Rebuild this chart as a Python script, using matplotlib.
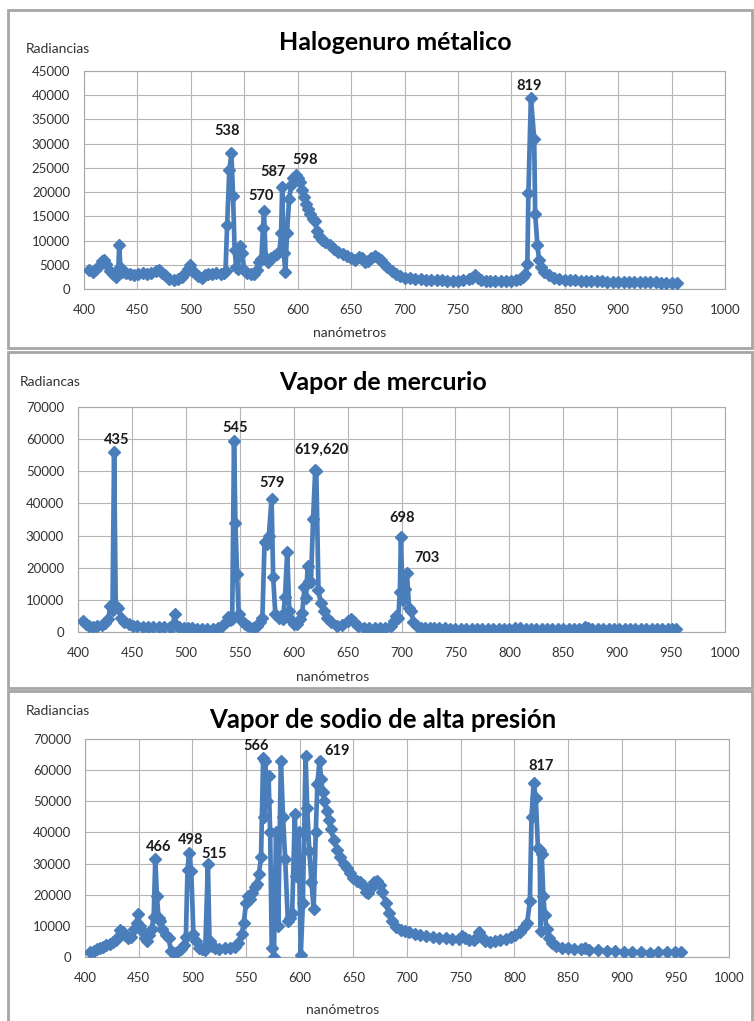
import matplotlib
matplotlib.use("Agg")
import matplotlib.pyplot as plt
from matplotlib.patches import Rectangle

plt.rcParams["font.family"] = ["Lato", "DejaVu Sans"]

W, H = 754, 1021
LINE = "#4a7ebb"

# --- Halogenuro metalico ---
hal_nm = [405, 408, 411, 414, 417, 419, 421, 424, 427, 430, 432, 433, 434, 436, 439,
          443, 447, 451, 455, 459, 463, 467, 470, 473, 476, 480, 484, 488, 492, 495,
          497, 499, 501, 504, 507, 510, 513, 516, 520, 524, 528, 531, 532.5, 534, 536,
          538, 539.5, 541, 542.5, 544, 546, 548, 550, 553, 556, 559, 562, 564, 566,
          567.5, 568.5, 570, 572, 575, 578, 581, 583, 584.5, 585.5, 587, 588.5, 590,
          592, 594, 596, 598, 600, 602, 604, 606, 608, 610, 612, 614, 616, 618, 620,
          623, 626, 630, 634, 638, 642, 646, 650, 654, 657, 660, 663, 666, 669, 672,
          675, 678, 681, 684, 688, 692, 696, 700, 705, 710, 715, 720, 725, 730, 735,
          740, 745, 750, 755, 760, 763, 766, 769, 772, 776, 780, 785, 790, 795, 800,
          804, 808, 811, 813, 815, 816, 818.3, 821.4, 822.3, 824.4, 826, 828, 831,
          835, 840, 845, 850, 855, 860, 865, 870, 875, 880, 885, 890, 895, 900, 905,
          910, 915, 920, 925, 930, 935, 940, 945, 950, 955]
hal_rad = [4000, 3600, 4200, 4800, 5800, 6000, 5200, 3800, 3000, 2500, 3500, 9000, 4500, 3500, 3300,
           3000, 2900, 3100, 3200, 3000, 3400, 3800, 3900, 3400, 2800, 2000, 1800, 2000, 2400, 3200,
           4200, 5000, 3800, 3200, 2600, 2200, 2800, 3000, 3100, 3300, 3000, 3400, 3800, 13300, 24500,
           28000, 19300, 8000, 4500, 4200, 8800, 7500, 4000, 3200, 3000, 3100, 4000, 5500, 6200,
           12500, 16000, 6500, 5500, 6500, 6800, 7200, 7800, 11500, 21000, 7500, 3500, 11500,
           18500, 21500, 23000, 23500, 23000, 22000, 20500, 19000, 17500, 16500, 15500, 14500, 14000, 12000, 11000,
           10200, 9600, 9000, 8300, 7700, 7200, 6800, 6400, 6000, 6600, 6500, 5500, 5800, 6300, 6800,
           6500, 6000, 5200, 4500, 3800, 3000, 2600, 2300, 2200, 2100, 2000, 1900, 1900, 1800, 1800,
           1700, 1700, 1700, 1800, 2000, 2300, 2900, 2300, 1800, 1700, 1700, 1600, 1600, 1600, 1700,
           1800, 2000, 2400, 3000, 5200, 19800, 39500, 31000, 15500, 9000, 6000, 4500, 3500,
           2800, 2300, 2100, 1900, 1800, 1800, 1700, 1700, 1600, 1600, 1600, 1500, 1500, 1500, 1500,
           1500, 1400, 1400, 1400, 1400, 1400, 1300, 1300, 1300, 1300]

# --- Vapor de mercurio ---
hg_nm = [405, 407, 410, 414, 418, 422, 425, 428, 430, 432, 433.5, 435, 437, 440, 443,
         447, 451, 455, 460, 465, 470, 475, 480, 485, 488, 489.5, 491, 494, 498, 502,
         506, 510, 515, 520, 525, 530, 534, 537, 539, 541, 543, 544.7, 546, 547.5, 549,
         552, 555, 558, 562, 566, 569, 571, 573, 575, 577, 579.5, 581, 583, 586, 588,
         590, 592, 594, 596, 598, 600, 603, 606, 608, 610, 611.5, 613, 614.5, 616, 618,
         620, 621, 623, 625, 628, 631, 635, 640, 645, 650, 653, 656, 660, 665, 670,
         675, 680, 685, 690, 693, 695, 697, 698.5, 699.5, 701, 703, 705, 707, 709, 711,
         714, 718, 722, 726, 730, 735, 740, 745, 750, 755, 760, 765, 770, 775, 780,
         785, 790, 795, 800, 805, 810, 815, 820, 825, 830, 835, 840, 845, 850, 855,
         860, 865, 870, 873, 877, 882, 887, 892, 897, 902, 907, 912, 917, 922, 927,
         932, 937, 942, 947, 951, 955]
hg_rad = [3300, 2500, 1800, 1600, 1900, 2300, 2800, 4000, 8000, 7000, 56000, 8000, 7500, 4500, 3000,
          2400, 2000, 1800, 1600, 1500, 1500, 1600, 1500, 1600, 1900, 5500, 2200, 1600, 1300, 1200,
          1100, 1000, 1000, 1000, 1000, 1200, 1800, 3000, 4800, 3800, 4000, 59500, 34000, 18000, 5500,
          3500, 2500, 1800, 1300, 1800, 3000, 4500, 28000, 27500, 30000, 41500, 17000, 5500, 4500, 5000,
          4000, 11000, 25000, 6500, 3500, 2600, 2500, 4000, 6000, 14000, 10500, 20500, 16000, 15500, 35000,
          50500, 50000, 13000, 9000, 6500, 4500, 3000, 2000, 2200, 3500, 4000, 3000, 1800, 1400, 1300,
          1200, 1200, 1300, 1800, 3500, 5000, 4500, 12500, 29500, 10000, 13500, 18500, 7500, 6500, 3000,
          1800, 1400, 1300, 1200, 1200, 1100, 1100, 1000, 1000, 1000, 1000, 1000, 900, 1000, 1000,
          1000, 1000, 900, 1000, 1100, 1100, 1000, 1000, 1000, 900, 900, 900, 900, 900, 900,
          900, 1000, 1700, 1200, 1000, 1000, 900, 1000, 900, 900, 900, 900, 900, 900, 900,
          900, 900, 900, 850, 850, 800]

# --- Vapor de sodio de alta presion ---
na_nm = [405, 408, 411, 414, 417, 420, 423, 426, 429, 431, 433, 435, 437, 440, 443,
         446, 448, 449.5, 451, 453, 456, 458, 460, 462, 464, 465.5, 467, 468.5, 470, 472,
         475, 478, 480, 483, 486, 489, 492, 494, 495.5, 497, 499, 501, 503, 506, 509,
         512, 514.5, 516, 518, 521, 525, 530, 535, 540, 543, 546, 548, 550, 552, 554,
         556, 558, 560, 562, 564, 566, 567, 568, 569.5, 571, 572.5, 574, 576, 578, 580,
         582.5, 584.5, 586.5, 589, 591, 593, 595.5, 597, 599, 601, 603, 605.5, 607, 609,
         611, 613, 615, 616.5, 618.5, 620, 621.5, 623, 625, 627, 629, 632, 635, 638, 641,
         644, 647, 650, 653, 656, 659, 662, 664, 666, 669, 672, 675, 677, 680, 683,
         686, 690, 694, 698, 702, 707, 712, 718, 724, 730, 736, 742, 748, 751, 754,
         758, 762, 765, 767, 770, 773, 777, 782, 787, 792, 797, 801, 805, 809, 812,
         814.5, 816, 818, 820, 822, 823.5, 824.5, 825.5, 827, 828.5, 830, 832, 835, 839, 844,
         850, 856, 862, 866, 870, 878, 886, 894, 902, 910, 918, 926, 934, 942, 950, 955]
na_rad = [1500, 2000, 2500, 3000, 3300, 3800, 4200, 4700, 5500, 6500, 8800, 8000, 7000, 6000, 6500,
          9000, 11000, 13800, 10000, 8500, 6000, 5000, 7000, 9000, 12800, 31500, 19500, 12500, 11500, 9000,
          7000, 6000, 2000, 1200, 1500, 2500, 4000, 6500, 28000, 33500, 27500, 7500, 5000, 3000, 2500,
          2200, 30000, 5000, 3500, 2800, 2700, 2800, 2800, 3200, 4500, 7500, 11000, 17500, 19500, 18500,
          20500, 22500, 23500, 26500, 32000, 64000, 45000, 63000, 50000, 58000, 40000, 3000, 0, 40000, 10000,
          63000, 45000, 31500, 11500, 12500, 14000, 46000, 26000, 40000, 500, 17500, 64500, 48000, 34000,
          24000, 15500, 40000, 55500, 63000, 57000, 53000, 50000, 47000, 44000, 41000, 37500, 34500, 32000, 30000,
          28500, 27000, 25500, 24500, 24000, 23000, 21000, 20500, 22000, 24000, 24500, 23000, 21000, 17500, 14000,
          11500, 9500, 8800, 8300, 8000, 7500, 7200, 6800, 6500, 6200, 6000, 5800, 5800, 6800, 6000,
          5500, 5500, 6500, 8000, 6500, 5000, 4800, 5000, 5400, 5800, 6300, 7000, 8000, 9500, 11000,
          18000, 45000, 56000, 51000, 35000, 34500, 8500, 33000, 19500, 13500, 9000, 6000, 4500, 3500, 3000,
          2800, 2600, 2500, 2800, 2300, 2100, 2000, 1900, 1700, 1600, 1500, 1400, 1500, 1600, 1500, 1600]

hal_peaks = [("538", 538, 28000), ("570", 568.5, 16000), ("587", 585.5, 21000),
             ("598", 598, 23500), ("819", 818.3, 39500)]
hg_peaks = [("435", 433.5, 56000), ("545", 544.7, 59500), ("579", 579.5, 41500),
            ("619,620", 620, 50500), ("698", 699.5, 29500), ("703", 705, 18500)]
na_peaks = [("466", 465.5, 31500), ("498", 497, 33500), ("515", 514.5, 30000),
            ("566", 566, 64000), ("619", 618.5, 63000), ("817", 818, 56000)]

# label offsets in pixels (dx, dy) from the peak marker
hal_off = [(-4, 22), (-3, 15), (-9, 15), (10, 15), (-2, 12)]
hg_off = [(3, 12), (1, 13), (0, 16), (6, 20), (1, 19), (20, 15)]
na_off = [(3, 12), (2, 13), (6, 10), (-7, 12), (18, 10), (7, 17)]


def axes_px(fig, x0, y0, x1, y1):
    return fig.add_axes([x0 / W, 1 - y1 / H, (x1 - x0) / W, (y1 - y0) / H])


def ftext(fig, x, y, s, **kw):
    fig.text(x / W, 1 - y / H, s, va="center", **kw)


def panel(ax, nm, rad, ymax, peaks, offsets):
    ax.plot(nm, rad, color=LINE, lw=3.4, marker="D", ms=6, mec=LINE, zorder=3,
            solid_joinstyle="round")
    ax.set_xlim(400, 1000)
    ax.set_ylim(0, ymax)
    ax.set_xticks(range(400, 1001, 50))
    ax.set_yticks(range(0, ymax + 1, 5000 if ymax < 50000 else 10000))
    ax.grid(True, color="#b5b5b5", lw=0.8)
    ax.set_axisbelow(True)
    for s in ax.spines.values():
        s.set_color("#a8a8a8")
        s.set_linewidth(0.8)
    ax.tick_params(length=0, labelsize=9.5, labelcolor="#333333", pad=10)
    ax.tick_params(axis="x", pad=11)
    for (lab, x, y), (dx, dy) in zip(peaks, offsets):
        ax.annotate(lab, (x, y), xytext=(dx, dy), textcoords="offset pixels",
                    ha="center", va="center", fontsize=10.5, fontweight="bold",
                    color="#1a1a1a", zorder=5)


fig = plt.figure(figsize=(W / 100, H / 100), dpi=100)

for top, bot in [(10, 348), (352, 688), (691, 1030)]:
    fig.patches.append(Rectangle((8 / W, 1 - bot / H), (752 - 8) / W, (bot - top) / H,
                                 transform=fig.transFigure, fill=False,
                                 edgecolor="#a6a6a6", lw=2))

ax1 = axes_px(fig, 84, 71, 725, 289)
panel(ax1, hal_nm, hal_rad, 45000, hal_peaks, hal_off)
ftext(fig, 26, 49, "Radiancias", fontsize=10, color="#333333")
ftext(fig, 395, 43, "Halogenuro métalico", fontsize=18, fontweight="bold", ha="center")
ftext(fig, 350, 333, "nanómetros", fontsize=10, color="#333333", ha="center")

ax2 = axes_px(fig, 78, 407, 725, 632)
panel(ax2, hg_nm, hg_rad, 70000, hg_peaks, hg_off)
ftext(fig, 20, 382, "Radiancas", fontsize=10, color="#333333")
ftext(fig, 383, 382, "Vapor de mercurio", fontsize=18, fontweight="bold", ha="center")
ftext(fig, 333, 677, "nanómetros", fontsize=10, color="#333333", ha="center")

ax3 = axes_px(fig, 85, 739, 729, 957)
panel(ax3, na_nm, na_rad, 70000, na_peaks, na_off)
ftext(fig, 26, 711, "Radiancias", fontsize=10, color="#333333")
ftext(fig, 383, 720, "Vapor de sodio de alta presión", fontsize=18.5, fontweight="bold", ha="center")
ftext(fig, 343, 1010, "nanómetros", fontsize=10, color="#333333", ha="center")

fig.savefig("out.png", dpi=100)
